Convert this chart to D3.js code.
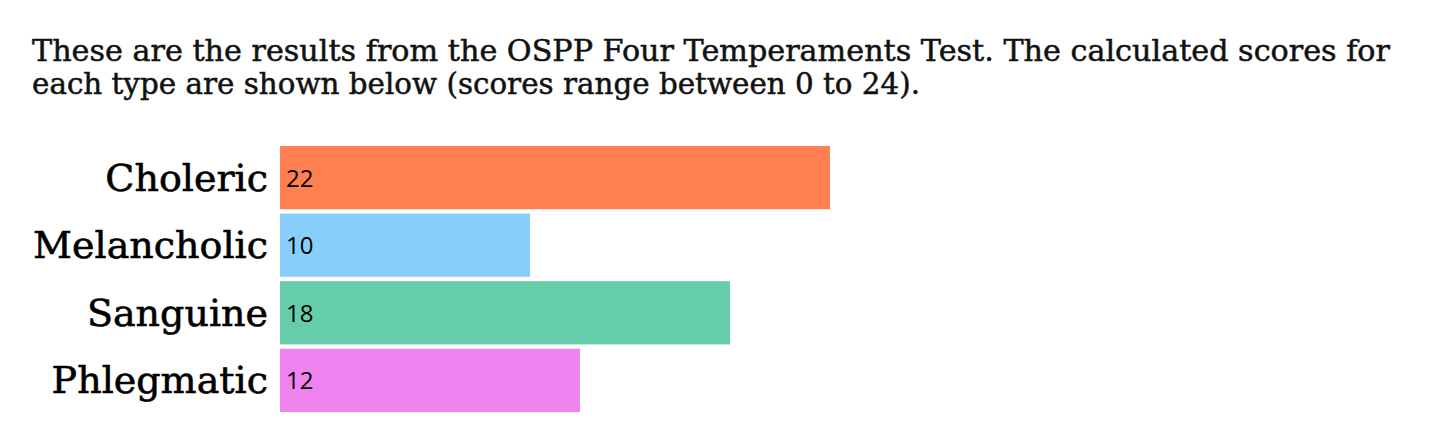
<!DOCTYPE html>
<html>
<head>
<meta charset="utf-8">
<script src="https://cdn.jsdelivr.net/npm/d3@7"></script>
<style>
  body { margin: 0; background: #ffffff; }
</style>
</head>
<body>
<script>
const titleLines = [
  'These are the results from the OSPP Four Temperaments Test. The calculated scores for',
  'each type are shown below (scores range between 0 to 24).',
];
const temperaments = ['Choleric', 'Melancholic', 'Sanguine', 'Phlegmatic'];
const scores = [22, 10, 18, 12];
const barColors = ['coral', 'lightskyblue', 'mediumaquamarine', 'violet'];
const scoreMax = 24;

const width = 1456;
const height = 432;
const serif = '"DejaVu Serif", "Liberation Serif", serif';

const svg = d3.select('body')
  .append('svg')
  .attr('width', width)
  .attr('height', height);

// Title, two lines, squeezed to the width seen in the picture
const title = svg.append('g');
const lineWidths = [1358, 888];
titleLines.forEach((line, i) => {
  title.append('text')
    .attr('x', 32)
    .attr('y', 61 + i * 33)
    .attr('textLength', lineWidths[i])
    .attr('lengthAdjust', 'spacingAndGlyphs')
    .style('font-family', serif)
    .style('font-size', '29px')
    .style('fill', '#111')
    .style('stroke', '#111')
    .style('stroke-width', 0.5)
    .text(line);
});

const x = d3.scaleLinear()
  .domain([0, scoreMax])
  .range([280, 880]);

const y = d3.scaleBand()
  .domain(temperaments)
  .range([144, 414])
  .paddingInner(0.065)
  .paddingOuter(0.03);

const rows = svg.append('g')
  .selectAll('g')
  .data(temperaments)
  .enter()
  .append('g');

rows.append('rect')
  .attr('x', x(0))
  .attr('y', d => y(d))
  .attr('width', (d, i) => x(scores[i]) - x(0))
  .attr('height', y.bandwidth())
  .style('fill', (d, i) => barColors[i]);

rows.append('text')
  .attr('x', x(0) - 12)
  .attr('y', d => y(d) + y.bandwidth() / 2 + 13)
  .attr('text-anchor', 'end')
  .style('font-family', serif)
  .style('font-size', '38px')
  .style('fill', '#000')
  .style('stroke', '#000')
  .style('stroke-width', 0.6)
  .text(d => d);

rows.append('text')
  .attr('x', x(0) + 6)
  .attr('y', d => y(d) + y.bandwidth() / 2 + 9)
  .style('font-family', '"Open Sans", "Noto Sans", sans-serif')
  .style('font-size', '24px')
  .style('font-weight', 500)
  .style('fill', '#000')
  .text((d, i) => scores[i]);
</script>
</body>
</html>
